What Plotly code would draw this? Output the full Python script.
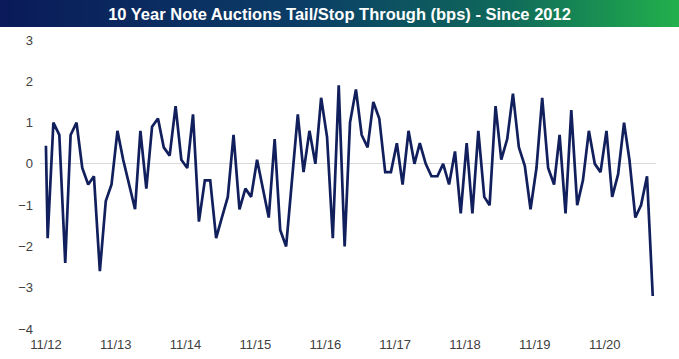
import base64
import pandas as pd
import plotly.graph_objects as go

# ---- data ----
first_date = ["2012-11-01"]
first_value = [0.44]
auction_dates = list(pd.date_range("2012-11-01", periods=105, freq="MS") + pd.Timedelta(days=9))
tail_bps = [
    -1.8, 1.0, 0.7, -2.4, 0.7, 1.0, -0.1, -0.5, -0.3, -2.6,
    -0.9, -0.5, 0.8, 0.1, -0.5, -1.1, 0.8, -0.6, 0.9, 1.1,
    0.4, 0.2, 1.4, 0.1, -0.1, 1.2, -1.4, -0.4, -0.4, -1.8,
    -1.3, -0.8, 0.7, -1.1, -0.6, -0.8, 0.1, -0.6, -1.3, 0.6,
    -1.6, -2.0, -0.4, 1.2, -0.2, 0.8, 0.0, 1.6, 0.65, -1.8,
    1.9, -2.0, 1.0, 1.8, 0.7, 0.4, 1.5, 1.1, -0.2, -0.2,
    0.5, -0.5, 0.8, 0.0, 0.5, 0.0, -0.3, -0.3, 0.0, -0.5,
    0.3, -1.2, 0.5, -1.2, 0.8, -0.8, -1.0, 1.4, 0.1, 0.6,
    1.7, 0.4, -0.05, -1.1, -0.1, 1.6, -0.1, -0.5, 0.7, -1.2,
    1.3, -1.0, -0.4, 0.8, 0.0, -0.2, 0.8, -0.8, -0.25, 1.0,
    0.1, -1.3, -1.0, -0.3, -3.2,
]
tick_dates = [f"20{y}-11-01" for y in range(12, 21)]
tick_labels = [f"11/{y}" for y in range(12, 21)]
y_ticks = [3, 2, 1, 0, -1, -2, -3, -4]

x_all = pd.to_datetime(first_date).tolist() + auction_dates
y_all = first_value + tail_bps

W, H = 679, 359
ML, MR, MT, MB = 40, 23, 40, 30
PW, PH = W - ML - MR, H - MT - MB

fig = go.Figure()
fig.add_trace(go.Scatter(
    x=x_all, y=y_all, mode="lines",
    line=dict(color="#111f5c", width=2.7),
    hoverinfo="skip", showlegend=False,
))

svg = (
    '<svg xmlns="http://www.w3.org/2000/svg" width="679" height="27" preserveAspectRatio="none">'
    '<defs><linearGradient id="g" x1="0" y1="0" x2="1" y2="0">'
    '<stop offset="0" stop-color="#0a1a5a"/>'
    '<stop offset="0.45" stop-color="#0b3e66"/>'
    '<stop offset="0.75" stop-color="#0f6a5a"/>'
    '<stop offset="1" stop-color="#22b04c"/>'
    '</linearGradient></defs>'
    '<rect width="679" height="27" fill="url(#g)"/></svg>'
)
uri = "data:image/svg+xml;base64," + base64.b64encode(svg.encode()).decode()

fig.add_layout_image(dict(
    source=uri, xref="paper", yref="paper",
    x=-ML / PW, y=1 + MT / PH, sizex=W / PW, sizey=27 / PH,
    xanchor="left", yanchor="top", sizing="stretch", layer="above",
))

fig.update_layout(
    width=W, height=H,
    margin=dict(l=ML, r=MR, t=MT, b=MB),
    paper_bgcolor="white", plot_bgcolor="white",
    font=dict(family="Liberation Sans, Arial, sans-serif", size=13, color="#404040"),
    title=dict(
        text="<b>10 Year Note Auctions Tail/Stop Through (bps) - Since 2012</b>",
        x=0.5, xref="container", xanchor="center",
        y=1 - 14 / H, yref="container", yanchor="middle",
        font=dict(family="Liberation Sans, Arial, sans-serif", size=16.5, color="white"),
    ),
    xaxis=dict(
        type="date", range=["2012-10-01", "2021-07-27"],
        tickvals=tick_dates, ticktext=tick_labels,
        showgrid=False, zeroline=False, showline=False, ticks="",
        ticklabelstandoff=6, automargin=False,
        tickfont=dict(size=13, color="#404040"),
    ),
    yaxis=dict(
        range=[-4, 3], tickvals=y_ticks,
        showgrid=False, zeroline=True, zerolinecolor="#d9d9d9", zerolinewidth=1,
        showline=False, ticks="", ticklabelstandoff=6, automargin=False,
        tickfont=dict(size=13, color="#404040"),
    ),
)

fig.write_html(
    "out.html",
    config={"displayModeBar": False},
    post_script="document.body.style.margin='0';document.body.style.padding='0';",
)
